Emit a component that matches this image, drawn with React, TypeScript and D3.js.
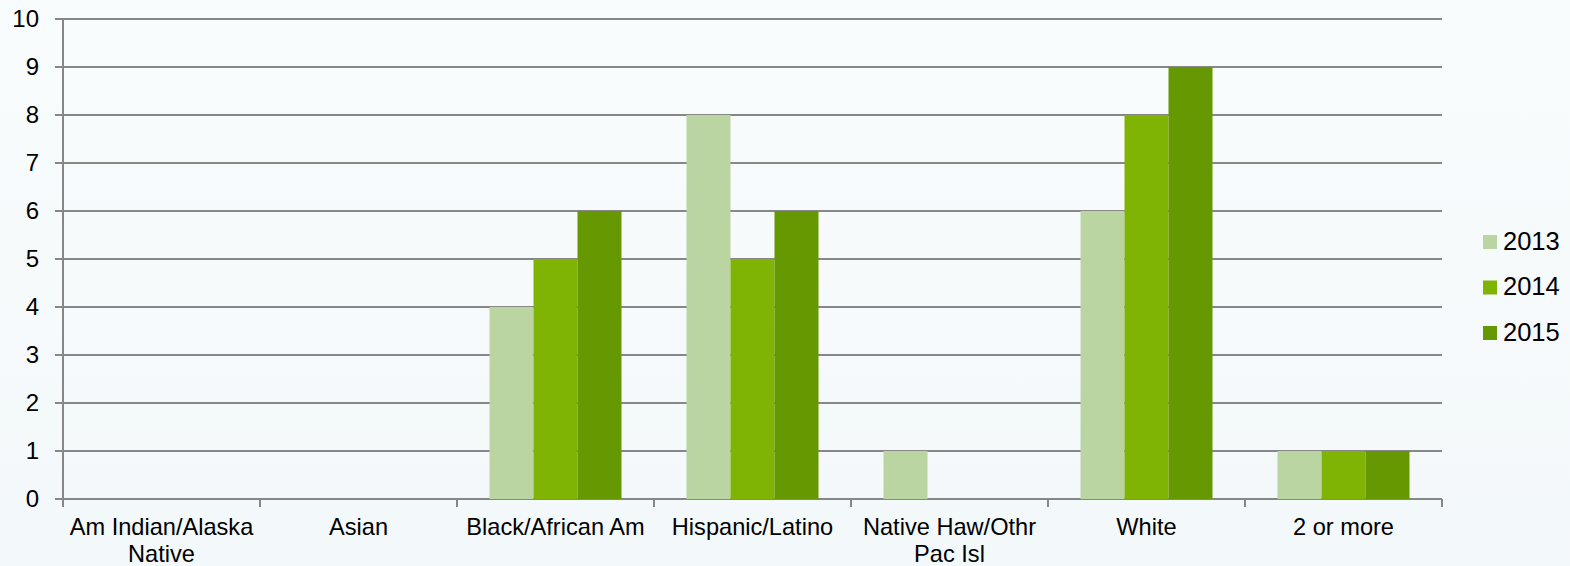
import React from "react";
import * as d3 from "d3";

const categories = [
  ["Am Indian/Alaska", "Native"],
  ["Asian"],
  ["Black/African Am"],
  ["Hispanic/Latino"],
  ["Native Haw/Othr", "Pac Isl"],
  ["White"],
  ["2 or more"],
];
const years = ["2013", "2014", "2015"];
const values2013 = [0, 0, 4, 8, 1, 6, 1];
const values2014 = [0, 0, 5, 5, 0, 8, 1];
const values2015 = [0, 0, 6, 6, 0, 9, 1];
const yTicks = [0, 1, 2, 3, 4, 5, 6, 7, 8, 9, 10];
const colors = ["#bad4a2", "#7fb404", "#669802"];

export default function App() {
  const W = 1570, H = 566;
  const left = 63, right = 1442, top = 19, bottom = 499;
  const series = [values2013, values2014, values2015];

  const x = d3.scaleBand<number>().domain(d3.range(categories.length)).range([left, right]).padding(0);
  const y = d3.scaleLinear().domain([0, 10]).range([bottom, top]);
  const bw = x.bandwidth();
  const groupW = bw * 0.67;
  const barW = groupW / 3;

  const font = "'Liberation Sans', Arial, sans-serif";

  return (
    <svg width={W} height={H} style={{ position: "absolute", left: 0, top: 0 }}>
      <defs>
        <linearGradient id="bg" x1="0" y1="0" x2="0" y2="1">
          <stop offset="0" stopColor="#f9fcfd" />
          <stop offset="1" stopColor="#f3f8fa" />
        </linearGradient>
      </defs>
      <rect width={W} height={H} fill="url(#bg)" />
      {yTicks.map((t) => (
        <g key={t}>
          <line x1={left - 8} x2={right} y1={y(t)} y2={y(t)} stroke="#878787" strokeWidth={2} />
          <text x={39} y={y(t) + 7.5} textAnchor="end" fontFamily={font} fontSize={24} fill="#000">
            {t}
          </text>
        </g>
      ))}
      <line x1={left} x2={left} y1={top} y2={bottom + 1} stroke="#878787" strokeWidth={2} />
      {d3.range(categories.length + 1).map((i) => {
        const xx = left + i * bw;
        return <line key={i} x1={xx} x2={xx} y1={bottom} y2={bottom + 8} stroke="#878787" strokeWidth={2} />;
      })}
      {categories.map((c, i) => {
        const cx = (x(i) as number) + bw / 2;
        const g0 = cx - groupW / 2;
        return (
          <g key={i}>
            {series.map((s, k) =>
              s[i] > 0 ? (
                <rect key={k} x={g0 + k * barW} y={y(s[i])} width={barW} height={y(0) - y(s[i])} fill={colors[k]} />
              ) : null
            )}
            {c.map((line, j) => (
              <text key={j} x={cx} y={535 + j * 27} textAnchor="middle" fontFamily={font} fontSize={23.6} fill="#000">
                {line}
              </text>
            ))}
          </g>
        );
      })}
      {years.map((yr, k) => (
        <g key={yr}>
          <rect x={1483} y={235 + k * 45.5} width={14} height={14} fill={colors[k]} />
          <text x={1503} y={249.5 + k * 45.5} fontFamily={font} fontSize={25.5} fill="#000">
            {yr}
          </text>
        </g>
      ))}
    </svg>
  );
}
